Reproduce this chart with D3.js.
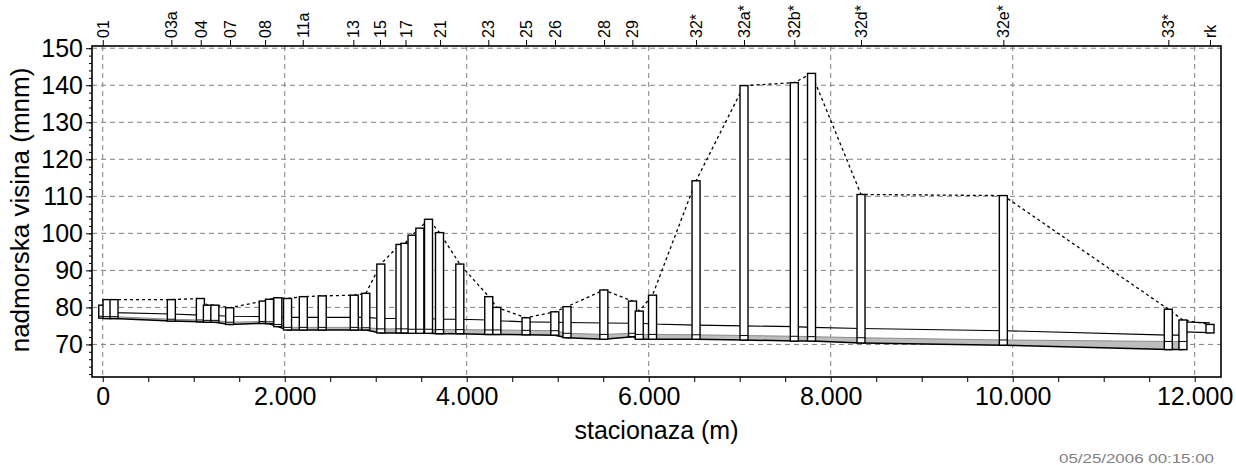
<!DOCTYPE html>
<html>
<head>
<meta charset="utf-8">
<script src="https://cdn.jsdelivr.net/npm/d3@7"></script>
<style>
  body { margin: 0; background: #fff; }
  svg text { font-family: Arial, "Liberation Sans", sans-serif; }
</style>
</head>
<body>
<div id="chart"></div>
<script>
////////////////////////////////////////////////////////////////////
////////////////////////////  Data  ////////////////////////////////

// manholes (stacionaza m, elevations mnm)
const nodeStation = [0, 47, 124, 754, 1073, 1150, 1232, 1395, 1764, 1833, 1924, 2031, 2204, 2412, 2764, 2891,
  3056, 3267, 3322, 3399, 3485, 3580, 3701, 3924, 4242, 4331, 4652, 4968, 5102, 5507, 5822, 5896, 6042,
  6520, 7047, 7600, 7789, 8333, 9897, 11710, 11871, 12168];
const nodeRim = [80.6, 82.1, 82.1, 82.1, 82.4, 80.6, 80.6, 79.9, 81.7, 82.2, 82.6, 82.4, 82.9, 83.1, 83.3, 83.8,
  91.7, 97.0, 97.3, 99.5, 101.4, 103.8, 100.2, 91.7, 82.9, 80.0, 77.2, 78.8, 80.2, 84.7, 81.7, 79.0, 83.3,
  114.2, 139.9, 140.7, 143.2, 110.5, 110.2, 79.5, 76.6, 75.4];
const nodeInvert = [77.1, 77.0, 77.0, 76.3, 76.1, 76.0, 76.0, 75.4, 75.7, 75.6, 74.8, 73.9, 73.9, 73.9, 73.9, 73.9,
  73.1, 73.1, 73.1, 73.0, 73.0, 73.0, 72.9, 72.9, 72.7, 72.7, 72.6, 72.5, 71.8, 71.4, 72.1, 71.4, 71.4,
  71.4, 71.2, 70.9, 70.9, 70.4, 69.8, 68.6, 68.6, 73.1];
const nodeWater = [77.6, 77.5, 77.5, 76.8, 76.6, 76.5, 76.5, 76.0, 76.2, 76.1, 75.4, 74.6, 74.6, 74.6, 74.6, 74.5,
  74.2, 74.2, 74.2, 74.1, 74.1, 74.1, 74.0, 74.0, 73.9, 73.9, 73.8, 73.7, 73.0, 72.7, 73.0, 72.7, 72.7,
  72.6, 72.4, 72.2, 72.1, 71.8, 71.2, 70.8, 70.8, 73.1];
// crown of the pipe leaving each manhole
const nodeCrown = [78.8, 78.7, 78.6, 78.2, 77.9, 77.9, 77.8, 77.6, 77.5, 77.5, 77.4, 77.3, 77.3, 77.3, 77.3, 77.3,
  77.0, 77.0, 77.0, 77.0, 77.0, 77.0, 76.8, 76.8, 76.6, 76.4, 76.1, 76.0, 75.9, 75.8, 75.7, 75.7, 75.5,
  75.2, 75.0, 74.8, 74.6, 74.3, 73.7, 72.5, 72.5, 76.0];
// last pipe to the outlet sits higher
const lastLinkInvert = [73.4, 73.2];
const lastLinkCrown = [76.1, 75.8];

// manhole labels on the top axis
const topLabels = ["01", "03a", "04", "07", "08", "11a", "13", "15", "17", "21", "23", "25", "26", "28", "29",
  "32*", "32a*", "32b*", "32d*", "32e*", "33*", "rk"];
const topStations = [0, 754, 1077, 1399, 1784, 2198, 2754, 3047, 3327, 3707, 4237, 4652, 4970, 5509, 5820,
  6520, 7047, 7600, 8333, 9897, 11710, 12168];

const xTickValues = [0, 2000, 4000, 6000, 8000, 10000, 12000];
const yTickValues = [70, 80, 90, 100, 110, 120, 130, 140, 150];

////////////////////////////////////////////////////////////////////
////////////////////////////  Init  ////////////////////////////////

const width = 1236;
const height = 465;
const margin = { top: 46, right: 15, bottom: 88, left: 92 };

const svg = d3.select("#chart").append("svg")
  .attr("width", width)
  .attr("height", height);

const x = d3.scaleLinear().domain([-118, 12289]).range([margin.left, width - margin.right]);
const y = d3.scaleLinear().domain([61.2, 150.6]).range([height - margin.bottom, margin.top]);

const fmt = d3.formatLocale({ decimal: ",", thousands: ".", grouping: [3], currency: ["", ""] }).format(",d");

const nodes = nodeStation.map((s, i) => ({
  s, rim: nodeRim[i], inv: nodeInvert[i], wl: nodeWater[i], crown: nodeCrown[i]
}));
const piped = nodes.slice(0, nodes.length - 1); // manholes joined by the main pipe
const outlet = nodes[nodes.length - 1];
const beforeOutlet = nodes[nodes.length - 2];

// grid
svg.append("g").selectAll("line")
  .data(yTickValues)
  .join("line")
  .attr("x1", margin.left).attr("x2", width - margin.right)
  .attr("y1", d => y(d)).attr("y2", d => y(d))
  .attr("stroke", "#808080").attr("stroke-dasharray", "5,4");

svg.append("g").selectAll("line")
  .data(xTickValues)
  .join("line")
  .attr("x1", d => x(d)).attr("x2", d => x(d))
  .attr("y1", margin.top).attr("y2", height - margin.bottom)
  .attr("stroke", "#808080").attr("stroke-dasharray", "5,4");

// water in pipes
svg.append("path")
  .datum(piped)
  .attr("d", d3.area().x(d => x(d.s)).y0(d => y(d.inv)).y1(d => y(d.wl)))
  .attr("fill", "#bdbdbd");
svg.append("path")
  .datum(piped)
  .attr("d", d3.line().x(d => x(d.s)).y(d => y(d.wl)))
  .attr("fill", "none").attr("stroke", "#8c8c8c").attr("stroke-width", 1);

// pipe invert and crown
svg.append("path")
  .datum(piped)
  .attr("d", d3.line().x(d => x(d.s)).y(d => y(d.inv)))
  .attr("fill", "none").attr("stroke", "#000").attr("stroke-width", 1.5);
svg.append("path")
  .datum(piped)
  .attr("d", d3.line().x(d => x(d.s)).y(d => y(d.crown)))
  .attr("fill", "none").attr("stroke", "#000").attr("stroke-width", 1.1);

const lastLink = [beforeOutlet.s, outlet.s];
[lastLinkInvert, lastLinkCrown].forEach(vals => {
  svg.append("path")
    .datum(lastLink.map((s, i) => [s, vals[i]]))
    .attr("d", d3.line().x(d => x(d[0])).y(d => y(d[1])))
    .attr("fill", "none").attr("stroke", "#000").attr("stroke-width", 1.3);
});

// ground (dashed)
svg.append("path")
  .datum(nodes)
  .attr("d", d3.line().x(d => x(d.s)).y(d => y(d.rim)))
  .attr("fill", "none").attr("stroke", "#000")
  .attr("stroke-width", 1.3).attr("stroke-dasharray", "3,3");

// manholes
const mh = svg.append("g").selectAll("g")
  .data(nodes)
  .join("g");
mh.append("rect")
  .attr("x", d => x(d.s) - 4)
  .attr("width", 8)
  .attr("y", d => y(d.rim))
  .attr("height", d => y(d.inv) - y(d.rim))
  .attr("fill", "#fff").attr("stroke", "#000").attr("stroke-width", 1.4);
mh.filter(d => d.wl > d.inv).append("line")
  .attr("x1", d => x(d.s) - 4).attr("x2", d => x(d.s) + 4)
  .attr("y1", d => y(d.wl)).attr("y2", d => y(d.wl))
  .attr("stroke", "#000").attr("stroke-width", 1);

////////////////////////////////////////////////////////////////////
////////////////////////////  Axes  ////////////////////////////////

const left = margin.left, bottom = height - margin.bottom;

// minor y ticks
svg.append("g")
  .attr("transform", `translate(${left},0)`)
  .call(d3.axisLeft(y).tickValues(d3.range(62, 151, 2)).tickSize(3).tickFormat(""))
  .call(g => g.select(".domain").remove());

svg.append("g")
  .attr("transform", `translate(${left},0)`)
  .call(d3.axisLeft(y).tickValues(yTickValues).tickSize(6))
  .call(g => g.select(".domain").remove())
  .call(g => g.selectAll("text").attr("font-size", 25).attr("fill", "#000").attr("font-family", null));

svg.append("g")
  .attr("transform", `translate(0,${bottom})`)
  .call(d3.axisBottom(x).tickValues(d3.range(0, 12001, 500)).tickSize(5)
    .tickFormat(d => (xTickValues.includes(d) ? fmt(d) : "")))
  .call(g => g.select(".domain").remove())
  .call(g => g.selectAll("text").attr("font-size", 25).attr("y", 10).attr("fill", "#000").attr("font-family", null));

svg.append("g")
  .attr("transform", `translate(0,${margin.top})`)
  .call(d3.axisTop(x).tickValues(topStations).tickSize(6).tickFormat((d, i) => topLabels[i]))
  .call(g => g.select(".domain").remove())
  .call(g => g.selectAll("text")
    .attr("font-size", 16).attr("fill", "#000").attr("font-family", null)
    .attr("transform", "rotate(-90)")
    .attr("x", 8).attr("y", 0).attr("dy", "0.35em")
    .attr("text-anchor", "start"));

// frame
svg.append("rect")
  .attr("x", left).attr("y", margin.top)
  .attr("width", width - margin.right - left)
  .attr("height", bottom - margin.top)
  .attr("fill", "none").attr("stroke", "#000").attr("stroke-width", 1.6);

// titles
svg.append("text")
  .attr("transform", `translate(28.5,210) rotate(-90)`)
  .attr("text-anchor", "middle")
  .attr("font-size", 26)
  .text("nadmorska visina (mnm)");

svg.append("text")
  .attr("x", (left + width - margin.right) / 2)
  .attr("y", 439)
  .attr("text-anchor", "middle")
  .attr("font-size", 25)
  .text("stacionaza (m)");

svg.append("text")
  .attr("x", 1214).attr("y", 463)
  .attr("text-anchor", "end")
  .attr("font-size", 13)
  .attr("fill", "#808080")
  .attr("textLength", 155).attr("lengthAdjust", "spacingAndGlyphs")
  .text("05/25/2006 00:15:00");
</script>
</body>
</html>
